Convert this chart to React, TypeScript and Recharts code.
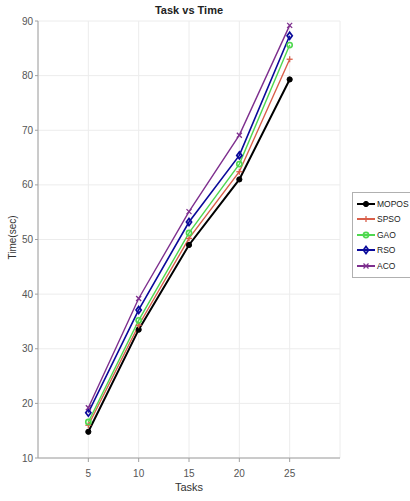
import React from 'react';
import { LineChart, Line, XAxis, YAxis, CartesianGrid } from 'recharts';

const tasks = [5, 10, 15, 20, 25];
const mopos = [14.8, 33.5, 49, 61, 79.3];
const spso = [16, 34.3, 50.2, 62.4, 83];
const gao = [16.6, 35.2, 51.2, 63.8, 85.6];
const rso = [18.3, 37.1, 53.2, 65.4, 87.3];
const aco = [19.2, 39.2, 55.1, 69.1, 89.2];

const xTicks = [5, 10, 15, 20, 25];
const yTicks = [10, 20, 30, 40, 50, 60, 70, 80, 90];

const data = tasks.map((t, i) => ({
  task: t,
  MOPOS: mopos[i],
  SPSO: spso[i],
  GAO: gao[i],
  RSO: rso[i],
  ACO: aco[i],
}));

type Shape = 'dot' | 'plus' | 'circle' | 'diamond' | 'cross';

const series: { key: string; color: string; shape: Shape; width: number }[] = [
  { key: 'MOPOS', color: '#000000', shape: 'dot', width: 2 },
  { key: 'SPSO', color: '#d95f4a', shape: 'plus', width: 1.4 },
  { key: 'GAO', color: '#4fd84f', shape: 'circle', width: 1.4 },
  { key: 'RSO', color: '#0a0a9a', shape: 'diamond', width: 1.6 },
  { key: 'ACO', color: '#7e2f8e', shape: 'cross', width: 1.4 },
];

function Marker({ cx, cy, color, shape }: { cx: number; cy: number; color: string; shape: Shape }) {
  if (cx == null || cy == null) return null;
  switch (shape) {
    case 'dot':
      return <circle cx={cx} cy={cy} r={2.6} fill={color} stroke={color} />;
    case 'plus':
      return (
        <g stroke={color} strokeWidth={1.3}>
          <line x1={cx - 3} y1={cy} x2={cx + 3} y2={cy} />
          <line x1={cx} y1={cy - 3} x2={cx} y2={cy + 3} />
        </g>
      );
    case 'circle':
      return <circle cx={cx} cy={cy} r={2.6} fill="none" stroke={color} strokeWidth={1.6} />;
    case 'diamond':
      return (
        <polygon
          points={`${cx},${cy - 3.5} ${cx + 2.6},${cy} ${cx},${cy + 3.5} ${cx - 2.6},${cy}`}
          fill="none"
          stroke={color}
          strokeWidth={1.7}
        />
      );
    default:
      return (
        <g stroke={color} strokeWidth={1.3}>
          <line x1={cx - 2.5} y1={cy - 2.5} x2={cx + 2.5} y2={cy + 2.5} />
          <line x1={cx - 2.5} y1={cy + 2.5} x2={cx + 2.5} y2={cy - 2.5} />
        </g>
      );
  }
}

const LegendBox = () => (
  <div
    style={{
      position: 'absolute',
      left: 352,
      top: 192,
      border: '1px solid #b0b0b0',
      background: '#fff',
      padding: '3px 0 3px 3px',
      width: 70,
      fontFamily: 'Liberation Sans, Arial, sans-serif',
      fontSize: 8.5,
      color: '#222',
    }}
  >
    {series.map((s) => (
      <div key={s.key} style={{ display: 'flex', alignItems: 'center', height: 15.5 }}>
        <svg width={20} height={10}>
          <line x1={1} y1={5} x2={19} y2={5} stroke={s.color} strokeWidth={2} />
          <Marker cx={10} cy={5} color={s.color} shape={s.shape} />
        </svg>
        <span style={{ marginLeft: 1, whiteSpace: 'nowrap' }}>{s.key}</span>
      </div>
    ))}
  </div>
);

const tickStyle = { fill: '#555', fontSize: 10, fontFamily: 'Liberation Sans, Arial, sans-serif' };

export default function App() {
  return (
    <div style={{ position: 'absolute', left: 0, top: 0, width: 410, height: 501, background: '#fff', overflow: 'hidden' }}>
      <LineChart width={410} height={501} data={data} margin={{ top: 21, right: 70, left: 0, bottom: 0 }}>
        <CartesianGrid stroke="#ececec" strokeWidth={1} />
        <XAxis
          dataKey="task"
          type="number"
          domain={[0, 30]}
          ticks={xTicks}
          height={43}
          stroke="#a0a0a0"
          tick={tickStyle}
          tickSize={4}
          tickMargin={8}
        />
        <XAxis xAxisId="top" orientation="top" type="number" domain={[0, 30]} ticks={xTicks} height={0} stroke="#a0a0a0" tick={false} />
        <YAxis
          type="number"
          domain={[10, 90]}
          ticks={yTicks}
          width={38}
          stroke="#a0a0a0"
          tick={tickStyle}
          tickSize={3}
          interval={0}
        />
        <YAxis yAxisId="right" orientation="right" domain={[10, 90]} ticks={yTicks} width={0} stroke="#a0a0a0" tick={false} />
        {series.map((s) => (
          <Line
            key={s.key}
            dataKey={s.key}
            stroke={s.color}
            strokeWidth={s.width}
            isAnimationActive={false}
            dot={(p: any) => <Marker key={`${s.key}-${p.index}`} cx={p.cx} cy={p.cy} color={s.color} shape={s.shape} />}
            activeDot={false}
          />
        ))}
      </LineChart>
      <div
        style={{
          position: 'absolute',
          top: 4,
          left: 38,
          width: 302,
          textAlign: 'center',
          fontFamily: 'Liberation Sans, Arial, sans-serif',
          fontWeight: 'bold',
          fontSize: 11,
          color: '#222',
        }}
      >
        Task vs Time
      </div>
      <div
        style={{
          position: 'absolute',
          left: 38,
          top: 481,
          width: 302,
          textAlign: 'center',
          fontFamily: 'Liberation Sans, Arial, sans-serif',
          fontSize: 11,
          color: '#333',
        }}
      >
        Tasks
      </div>
      <div
        style={{
          position: 'absolute',
          left: -18,
          top: 232,
          width: 60,
          textAlign: 'center',
          transform: 'rotate(-90deg)',
          fontFamily: 'Liberation Sans, Arial, sans-serif',
          fontSize: 10,
          color: '#333',
        }}
      >
        Time(sec)
      </div>
      <LegendBox />
    </div>
  );
}
